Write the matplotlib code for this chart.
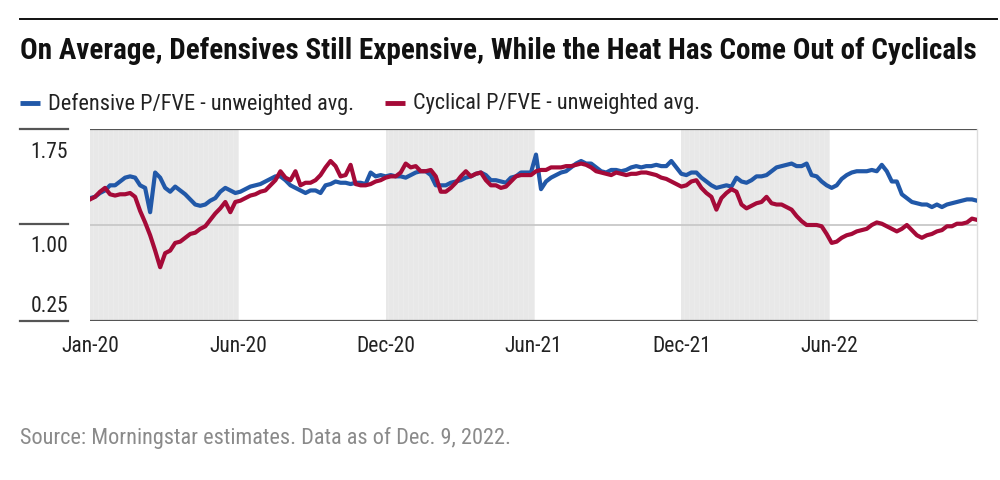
import matplotlib
matplotlib.use("Agg")
import matplotlib.pyplot as plt
from matplotlib import font_manager
from matplotlib.lines import Line2D
import numpy as np

defensive = [
    1.21, 1.22, 1.25, 1.27, 1.31, 1.31, 1.34, 1.37, 1.38, 1.37, 1.31, 1.29, 1.10, 1.41, 1.37,
    1.29, 1.26, 1.30, 1.27, 1.24, 1.20, 1.16, 1.15, 1.16, 1.19, 1.21, 1.26, 1.29, 1.27, 1.25,
    1.26, 1.28, 1.30, 1.31, 1.32, 1.34, 1.36, 1.38, 1.38, 1.35, 1.31, 1.29, 1.27, 1.25, 1.27,
    1.27, 1.25, 1.31, 1.32, 1.34, 1.33, 1.33, 1.32, 1.33, 1.33, 1.32, 1.41, 1.38, 1.39, 1.38,
    1.39, 1.38, 1.38, 1.37, 1.39, 1.41, 1.42, 1.42, 1.39, 1.31, 1.31, 1.31, 1.33, 1.34, 1.35,
    1.37, 1.38, 1.40, 1.41, 1.39, 1.35, 1.35, 1.34, 1.33, 1.37, 1.38, 1.41, 1.41, 1.41,
    1.55, 1.28, 1.34, 1.37, 1.39, 1.41, 1.42, 1.45, 1.48, 1.50, 1.48, 1.48, 1.45, 1.42, 1.41,
    1.43, 1.43, 1.42, 1.43, 1.45, 1.46, 1.45, 1.46, 1.46, 1.47, 1.46, 1.46, 1.50, 1.45, 1.40,
    1.39, 1.41, 1.41, 1.37, 1.34, 1.31, 1.29, 1.30, 1.31, 1.30, 1.37, 1.34, 1.33, 1.35, 1.38,
    1.38, 1.39, 1.42, 1.45, 1.46, 1.47, 1.48, 1.46, 1.46, 1.48, 1.39, 1.38, 1.34, 1.31, 1.29,
    1.31, 1.36, 1.39, 1.41, 1.42, 1.42, 1.42, 1.43, 1.42, 1.47, 1.42, 1.34, 1.34, 1.24, 1.21,
    1.18, 1.17, 1.16, 1.16, 1.14, 1.16, 1.14, 1.16, 1.17, 1.18, 1.19, 1.20, 1.20, 1.19,
]
cyclical = [
    1.20, 1.22, 1.26, 1.29, 1.24, 1.23, 1.24, 1.24, 1.25, 1.22, 1.11, 1.02, 0.92, 0.80, 0.67,
    0.78, 0.80, 0.86, 0.87, 0.90, 0.93, 0.94, 0.97, 0.99, 1.04, 1.09, 1.13, 1.18, 1.10, 1.18,
    1.19, 1.21, 1.23, 1.24, 1.26, 1.27, 1.31, 1.35, 1.42, 1.37, 1.35, 1.42, 1.31, 1.33, 1.33,
    1.35, 1.39, 1.45, 1.50, 1.46, 1.38, 1.39, 1.47, 1.32, 1.31, 1.31, 1.32, 1.34, 1.35, 1.37,
    1.38, 1.38, 1.41, 1.48, 1.45, 1.46, 1.42, 1.42, 1.43, 1.38, 1.26, 1.26, 1.29, 1.33, 1.38,
    1.42, 1.38, 1.40, 1.41, 1.35, 1.31, 1.31, 1.29, 1.30, 1.34, 1.38, 1.39, 1.39, 1.39,
    1.42, 1.43, 1.43, 1.45, 1.45, 1.45, 1.46, 1.46, 1.47, 1.48, 1.47, 1.45, 1.42, 1.41, 1.40,
    1.39, 1.41, 1.40, 1.39, 1.40, 1.40, 1.41, 1.41, 1.40, 1.39, 1.37, 1.36, 1.34, 1.32, 1.30,
    1.31, 1.34, 1.35, 1.29, 1.25, 1.22, 1.12, 1.21, 1.25, 1.28, 1.26, 1.16, 1.13, 1.15, 1.17,
    1.18, 1.22, 1.17, 1.16, 1.16, 1.14, 1.12, 1.07, 1.03, 1.00, 1.00, 1.00, 0.99, 0.93, 0.86,
    0.87, 0.90, 0.92, 0.93, 0.95, 0.96, 0.97, 1.00, 1.02, 1.01, 0.99, 0.97, 0.95, 0.97, 1.00,
    0.96, 0.92, 0.90, 0.92, 0.93, 0.95, 0.96, 0.99, 0.99, 1.01, 1.01, 1.02, 1.05, 1.04,
]
x_labels = ["Jan-20", "Jun-20", "Dec-20", "Jun-21", "Dec-21", "Jun-22"]
y_ticks = [0.25, 1.00, 1.75]
y_labels = ["0.25", "1.00", "1.75"]
series_names = ["Defensive P/FVE - unweighted avg.", "Cyclical P/FVE - unweighted avg."]

BLUE = "#2158a8"
RED = "#a50a38"

avail = {f.name for f in font_manager.fontManager.ttflist}
narrow = None
for cand in ["Liberation Sans Narrow", "Roboto Condensed", "Open Sans Condensed", "DejaVu Sans Condensed"]:
    if cand in avail:
        narrow = cand
        break
if narrow is None:
    narrow = "DejaVu Sans"

W, H = 1000, 481
fig = plt.figure(figsize=(W / 100, H / 100), dpi=100)

def fx(px):
    return px / W

def fy(py):
    return 1 - py / H

# top rule
fig.add_artist(Line2D([fx(20), fx(997)], [fy(20), fy(20)], color="#111111", lw=1.4))

# title
fig.text(fx(20), fy(51), "On Average, Defensives Still Expensive, While the Heat Has Come Out of Cyclicals",
         fontsize=21, fontweight="bold", family=narrow, va="center", ha="left", color="#111111")

# legend
leg_y = fy(104)
fig.add_artist(Line2D([fx(20), fx(40)], [leg_y, leg_y], color=BLUE, lw=3.5, solid_capstyle="butt"))
fig.text(fx(48), leg_y, series_names[0], fontsize=16, family=narrow, va="center", ha="left", color="#222222")
fig.add_artist(Line2D([fx(385), fx(405)], [leg_y, leg_y], color=RED, lw=3.5, solid_capstyle="butt"))
fig.text(fx(413), leg_y, series_names[1], fontsize=16, family=narrow, va="center", ha="left", color="#222222")

# axes
left, right, top, bottom = 90, 977, 130, 322
ax = fig.add_axes([fx(left), fy(bottom), fx(right - left), fy(top) - fy(bottom)])
n = len(defensive)
idx = np.arange(n)
step = (n - 1) / 6.0

for k in (0, 2, 4):
    ax.axvspan(k * step, (k + 1) * step, color="#e8e8e8", lw=0, zorder=0)
    for xi in idx[(idx >= k * step) & (idx < (k + 1) * step)]:
        ax.axvline(xi + 0.5, color="#ececec", lw=0.6, zorder=0.5)

ax.axhline(1.00, color="#c8c8c8", lw=1.3, zorder=1)
ax.axhline(1.75, color="#555555", lw=1.6, zorder=1)
ax.axhline(0.25, color="#555555", lw=1.6, zorder=1)

ax.plot(idx, defensive, color=BLUE, lw=3.0, zorder=3, solid_joinstyle="round")
ax.plot(idx, cyclical, color=RED, lw=3.0, zorder=4, solid_joinstyle="round")

ax.set_xlim(0, n - 1)
ax.set_ylim(0.25, 1.75)
for s in ["top", "left", "bottom"]:
    ax.spines[s].set_visible(False)
ax.spines["right"].set_color("#dddddd")
ax.spines["right"].set_linewidth(1.0)
ax.set_yticks([])
ax.set_xticks([k * step for k in range(6)])
ax.set_xticklabels(x_labels, fontsize=15.5, family=narrow, color="#222222")
ax.tick_params(axis="x", length=0, pad=10)
ax.patch.set_alpha(0)

# y labels in the left column, with rule segments
label_pos = {0.25: 306, 1.00: 247, 1.75: 152}
rule_px = {0.25: 322, 1.00: 225, 1.75: 130}
for val, lab in zip(y_ticks, y_labels):
    fig.text(fx(68), fy(label_pos[val]), lab, fontsize=15.5, family=narrow, ha="right", va="center", color="#222222")
    fig.add_artist(Line2D([fx(20), fx(68)], [fy(rule_px[val]), fy(rule_px[val])], color="#555555", lw=1.6))

# source
fig.text(fx(20), fy(438), "Source: Morningstar estimates. Data as of Dec. 9, 2022.",
         fontsize=16, family=narrow, ha="left", va="center", color="#8a8a8a")

fig.savefig("out.png", dpi=100, facecolor="white")
